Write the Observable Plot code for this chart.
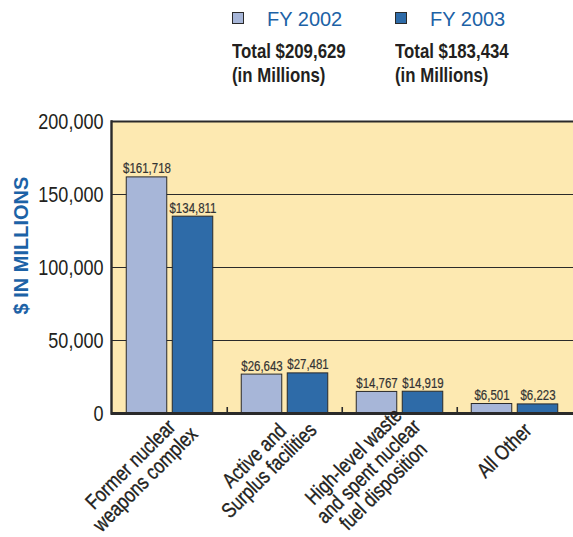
<!DOCTYPE html>
<html>
<head>
<meta charset="utf-8">
<script src="https://cdn.jsdelivr.net/npm/d3@7"></script>
<script src="https://cdn.jsdelivr.net/npm/@observablehq/plot@0.6"></script>
<style>
  html, body { margin: 0; padding: 0; background: #fff; }
  #page { position: relative; width: 573px; height: 537px; overflow: hidden; }
  #legend { position: relative; width: 573px; height: 100px; }
  .swatch { position: absolute; width: 10px; height: 10px; border: 1px solid #2a2a2a; }
  .series { position: absolute; font: 20px "Liberation Sans", Arial, sans-serif; line-height: 20px; color: #1c62a6; white-space: nowrap; }
  .total { position: absolute; font: bold 20.5px "Liberation Sans", Arial, sans-serif; line-height: 24px; color: #231f20; white-space: nowrap; transform-origin: 0 0; }
  #chart svg { display: block; }
</style>
</head>
<body>
<div id="page">
  <div id="legend"></div>
  <div id="chart"></div>
</div>
<script>
// Spending by category, $ millions
const categories = [
  "Former nuclear\nweapons complex",
  "Active and\nSurplus facilities",
  "High-level waste\nand spent nuclear\nfuel disposition",
  "All Other"
];
const fy2002 = [161718, 26643, 14767, 6501];
const fy2003 = [134811, 27481, 14919, 6223];
const seriesNames = ["FY 2002", "FY 2003"];
const seriesTotals = [209629, 183434];
const yTicks = [0, 50000, 100000, 150000, 200000];
const yGrid = [50000, 100000, 150000];

// Condensed lettering: Liberation Sans squeezed horizontally
const CONDENSED = `"Liberation Sans", Arial, sans-serif`;
const squeeze = 0.82;
const SANS = `"Liberation Sans", Arial, sans-serif`;
const colors = {
  fy2002: "#a7b6d8",
  fy2003: "#2e6ba8",
  paper: "#fde9b1",
  ink: "#231f20",
  line: "#2a2a2a",
  blue: "#1c62a6"
};

const width = 573, height = 437;
const margin = {top: 21, right: 0, bottom: 124, left: 111};
const plotHeight = height - margin.top - margin.bottom;
const band = (width - margin.left - margin.right) / categories.length;
const barWidth = 41, barGap = 5;
const outer = (band - 2 * barWidth - barGap) / 2;
const half = (barWidth + barGap) / 2;

const rows2002 = categories.map((category, i) => ({category, value: fy2002[i]}));
const rows2003 = categories.map((category, i) => ({category, value: fy2003[i]}));
const money = (v) => "$" + d3.format(",")(v);

// Legend: swatch, series name and yearly total
const legend = d3.select("#legend");
const legendLeft = [232, 395];
const swatchColors = [colors.fy2002, colors.fy2003];
seriesNames.forEach((name, i) => {
  const left = legendLeft[i];
  legend.append("div").attr("class", "swatch")
    .style("left", left + "px").style("top", "12px")
    .style("background", swatchColors[i]);
  legend.append("div").attr("class", "series")
    .style("left", (left + 35) + "px").style("top", "9px")
    .text(name);
  legend.append("div").attr("class", "total")
    .style("left", left + "px").style("top", "39px")
    .style("transform", `scaleX(${squeeze})`)
    .html(`Total ${money(seriesTotals[i])}<br>(in Millions)`);
});

// Rotated, centred multi-line category labels: the line ends sit, on
// average, just right of the category centre
const ctx = document.createElement("canvas").getContext("2d");
const labelSize = 21;
ctx.font = `${labelSize}px ${CONDENSED}`;
const s = Math.SQRT1_2;
const xLabelMarks = categories.map((c) => {
  const wMean = squeeze * d3.mean(c.split("\n"), (line) => ctx.measureText(line).width);
  return Plot.text([c], {
    x: (d) => d,
    text: (d) => d,
    frameAnchor: "bottom",
    rotate: -45,
    textAnchor: "middle",
    lineAnchor: "middle",
    lineHeight: 1.0,
    fontSize: labelSize,
    fontFamily: CONDENSED,
    fill: colors.ink,
    stroke: colors.ink,
    strokeWidth: 0.35,
    dx: 13 - s * wMean / 2,
    dy: 13.5 + s * wMean / 2
  });
});

const chart = Plot.plot({
  width,
  height,
  marginTop: margin.top,
  marginRight: margin.right,
  marginBottom: margin.bottom,
  marginLeft: margin.left,
  style: {fontFamily: SANS, background: "transparent", color: colors.ink},
  x: {domain: categories, padding: 0, axis: null},
  y: {domain: [0, 200000]},
  marks: [
    Plot.frame({fill: colors.paper}),
    Plot.ruleY(yGrid, {stroke: colors.line, strokeWidth: 1.2}),
    Plot.ruleY([200000], {stroke: colors.line, strokeWidth: 2.2}),
    Plot.barY(rows2002, {
      x: "category", y: "value",
      insetLeft: outer, insetRight: band - outer - barWidth,
      fill: colors.fy2002, stroke: colors.line, strokeWidth: 1
    }),
    Plot.barY(rows2003, {
      x: "category", y: "value",
      insetLeft: outer + barWidth + barGap, insetRight: outer,
      fill: colors.fy2003, stroke: colors.line, strokeWidth: 1
    }),
    Plot.text(rows2002, {
      x: "category", y: "value", text: (d) => money(d.value),
      dx: -half, dy: -4, lineAnchor: "bottom",
      fontSize: 14, fontFamily: CONDENSED, fill: "#333",
      stroke: "#333", strokeWidth: 0.2
    }),
    Plot.text(rows2003, {
      x: "category", y: "value", text: (d) => money(d.value),
      dx: half, dy: -4, lineAnchor: "bottom",
      fontSize: 14, fontFamily: CONDENSED, fill: "#333",
      stroke: "#333", strokeWidth: 0.2
    }),
    Plot.ruleX(categories.slice(1), {
      x: (d) => d, dx: -band / 2,
      insetTop: plotHeight - 6,
      stroke: colors.line, strokeWidth: 1.6
    }),
    Plot.frame({anchor: "left", stroke: colors.line, strokeWidth: 2.4}),
    Plot.ruleY([0], {stroke: colors.line, strokeWidth: 3}),
    Plot.axisY({
      ticks: yTicks,
      tickFormat: d3.format(","),
      tickSize: 0,
      tickPadding: 8,
      fontSize: 22,
      fontFamily: CONDENSED,
      fill: colors.ink,
      stroke: colors.ink,
      strokeWidth: 0.25,
      label: null
    }),
    Plot.text(["$ IN MILLIONS"], {
      text: (d) => d,
      frameAnchor: "left",
      textAnchor: "middle",
      rotate: -90,
      dx: -90,
      dy: -22,
      fontSize: 20,
      fontWeight: "bold",
      fill: colors.blue
    }),
    ...xLabelMarks
  ]
});

// Squeeze the condensed texts along their own baseline
d3.select(chart).selectAll("g")
  .filter(function () { return this.getAttribute("font-family") === CONDENSED; })
  .selectAll("text")
  .attr("transform", function () {
    return (this.getAttribute("transform") || "") + ` scale(${squeeze},1)`;
  });

document.getElementById("chart").append(chart);
</script>
</body>
</html>
